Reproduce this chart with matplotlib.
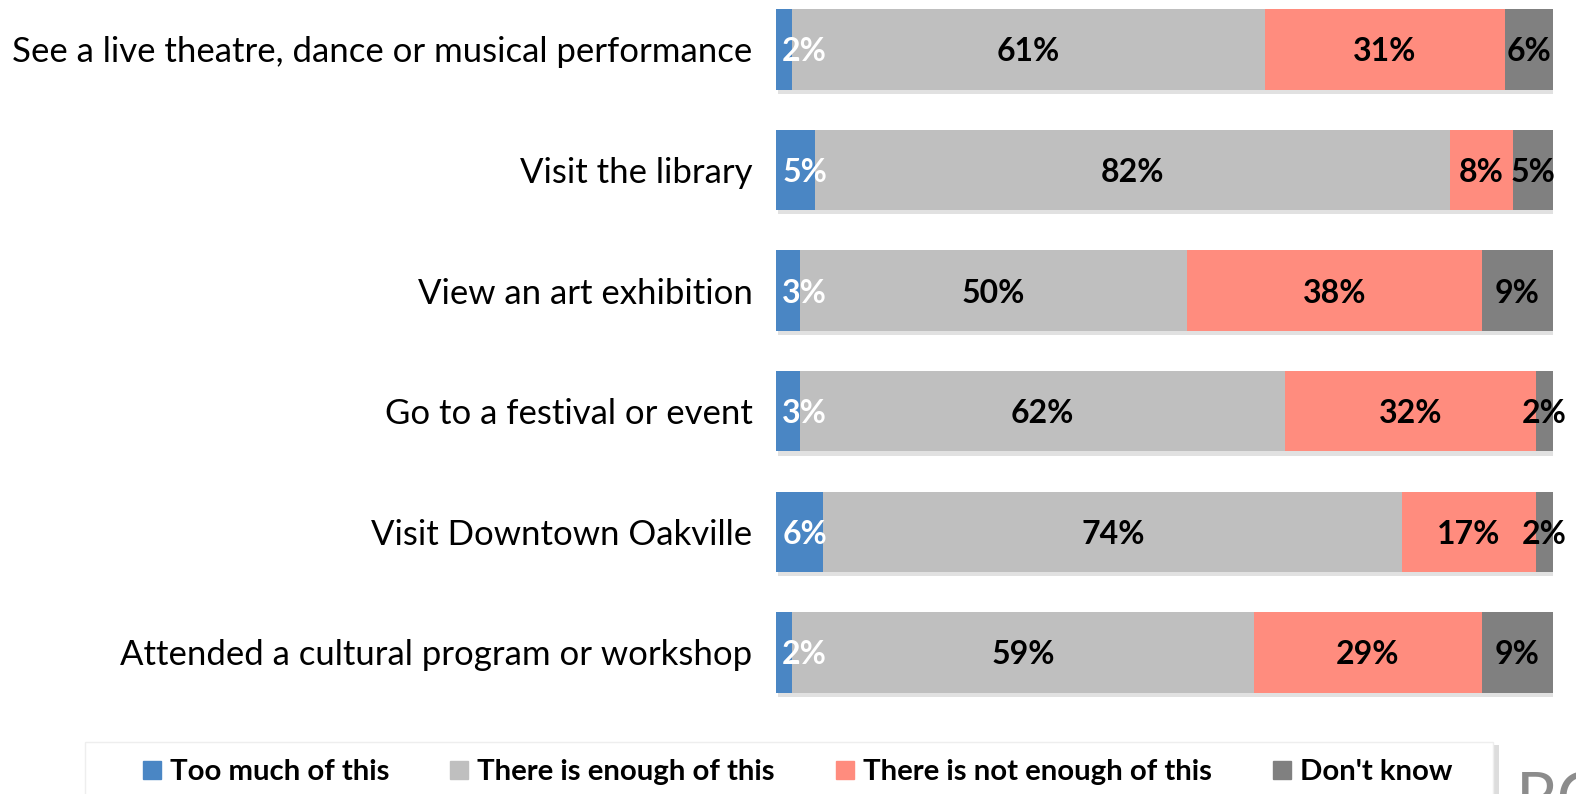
import numpy as np
import matplotlib
matplotlib.use('Agg')
import matplotlib.pyplot as plt
import matplotlib.patheffects as pe
from matplotlib.lines import Line2D
from matplotlib.patches import Rectangle

plt.rcParams['font.family'] = ['Lato', 'DejaVu Sans']

# categories, top to bottom
categories = [
    "See a live theatre, dance or musical performance",
    "Visit the library",
    "View an art exhibition",
    "Go to a festival or event",
    "Visit Downtown Oakville",
    "Attended a cultural program or workshop",
]
series_names = ["Too much of this", "There is enough of this",
                "There is not enough of this", "Don't know"]

# shares in percent
too_much   = [2.1, 5.0, 3.1, 3.1, 6.1, 2.1]
enough     = [60.8, 81.8, 49.8, 62.4, 74.5, 59.4]
not_enough = [30.9, 8.0, 37.9, 32.3, 17.2, 29.3]
dont_know  = [6.2, 5.2, 9.2, 2.2, 2.2, 9.2]

colors = ['#4A86C4', '#BFBFBF', '#FF8C7E', '#808080']
label_colors = ['white', 'black', 'black', 'black']

fig = plt.figure(figsize=(15.76, 7.94), dpi=100)
ax = fig.add_axes([776 / 1576, 1 - 713 / 794, 777 / 1576, 713 / 794])

data = [too_much, enough, not_enough, dont_know]
y = np.arange(len(categories))
left = np.zeros(len(categories))
shadow = [pe.SimplePatchShadow(offset=(1.5, -3), shadow_rgbFace='#8a8a8a', alpha=0.25), pe.Normal()]

for k, vals in enumerate(data):
    vals = np.array(vals)
    bars = ax.barh(y, vals, left=left, height=0.667, color=colors[k], linewidth=0)
    for b in bars:
        b.set_path_effects(shadow)
    for i, v in enumerate(vals):
        txt = f"{int(round(v))}%"
        if k == 0:
            ax.text(0.8, i + 0.02, txt, ha='left', va='center', color=label_colors[k],
                    fontsize=23, fontweight='bold', clip_on=False)
        else:
            ax.text(left[i] + v / 2, i + 0.02, txt, ha='center', va='center', color=label_colors[k],
                    fontsize=23, fontweight='bold', clip_on=False)
    left = left + vals

ax.set_xlim(0, 100)
ax.set_ylim(5.502, -0.41)
ax.set_yticks(y)
ax.set_yticklabels(categories, fontsize=25)
ax.tick_params(axis='y', length=0, pad=17)
ax.set_xticks([])
for s in ax.spines.values():
    s.set_visible(False)

# legend box (runs off the bottom edge like in the source)
box = Rectangle((85 / 1576, -0.06), (1493 - 85) / 1576, 1 - 742 / 794 + 0.06,
                transform=fig.transFigure, facecolor='white', edgecolor='#eeeeee', linewidth=1,
                zorder=1)
box.set_path_effects([pe.SimplePatchShadow(offset=(4, -2), shadow_rgbFace='#aaaaaa', alpha=0.4), pe.Normal()])
fig.patches.append(box)

handles = [Line2D([], [], marker='s', linestyle='none', markersize=12.5, color=c) for c in colors]
leg = fig.legend(handles, series_names, loc='center left', ncol=4,
                 bbox_to_anchor=(143 / 1576, 1 - 772 / 794), frameon=False,
                 borderpad=0, borderaxespad=0, handlelength=0.6, handletextpad=0.3,
                 columnspacing=2.09, prop={'size': 21.2, 'weight': 'bold'})
leg.set_zorder(3)

fig.text(1516 / 1576, 1 - 822 / 794, "RC", ha='left', va='baseline', fontsize=48,
         color='#8c8c8c')

fig.savefig('out.png', dpi=100)
